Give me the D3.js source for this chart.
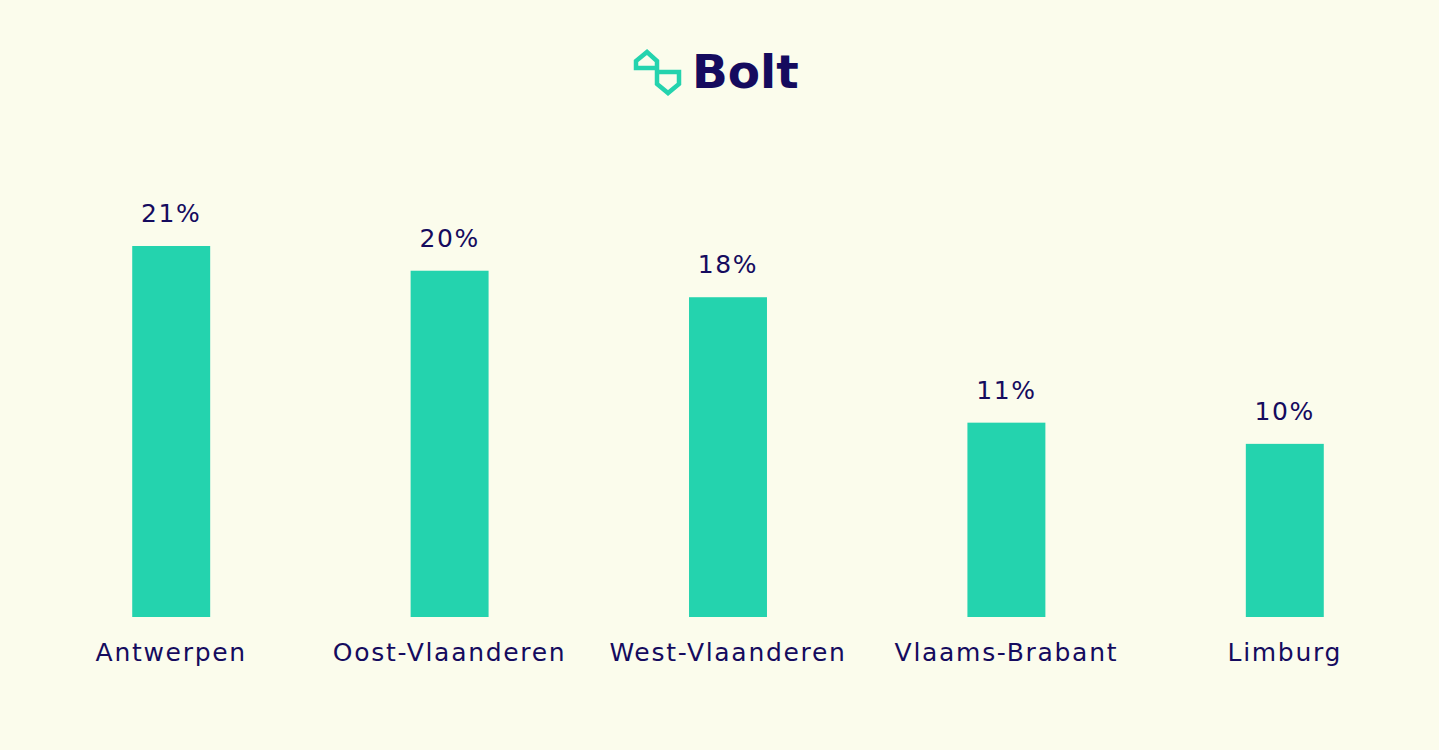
<!DOCTYPE html>
<html><head><meta charset="utf-8">
<script src="https://cdn.jsdelivr.net/npm/d3@7"></script>
<style>html,body{margin:0;padding:0;background:#fbfcec;}</style>
</head><body>
<svg id="c" width="1439" height="750"></svg>
<script>
const categories = ["Antwerpen","Oost-Vlaanderen","West-Vlaanderen","Vlaams-Brabant","Limburg"];
const values = [21, 19.6, 18.1, 11, 9.8];
const valueLabels = ["21%","20%","18%","11%","10%"];

const navy = "#150b5e", teal = "#24d3ae";
const svg = d3.select("#c");
svg.append("rect").attr("width",1439).attr("height",750).attr("fill","#fbfcec");

const x = d3.scaleBand().domain(categories).range([32,1424]).paddingInner(0.72).paddingOuter(0.36);
const y = d3.scaleLinear().domain([0,21]).range([617,246]);

svg.selectAll("rect.bar").data(categories).join("rect").attr("class","bar")
  .attr("x",d=>x(d)).attr("width",x.bandwidth())
  .attr("y",(d,i)=>y(values[i])).attr("height",(d,i)=>y(0)-y(values[i]))
  .attr("fill",teal);

svg.selectAll("text.val").data(categories).join("text").attr("class","val")
  .attr("x",d=>x(d)+x.bandwidth()/2).attr("y",(d,i)=>y(values[i])-24)
  .attr("text-anchor","middle").attr("fill",navy)
  .style("font-family","DejaVu Sans").style("font-size","25px").style("letter-spacing","1.6px")
  .text((d,i)=>valueLabels[i]);

const xAxis = d3.axisBottom(x).tickSize(0).tickPadding(0);
const gx = svg.append("g").attr("transform","translate(0,643)").call(xAxis);
gx.select(".domain").remove();
gx.selectAll("text").attr("dy","0.71em").attr("fill",navy)
  .style("font-family","DejaVu Sans").style("font-size","25px").style("letter-spacing","1.7px");

// logo
svg.append("path")
  .attr("d","M657,72 L679,72 L679,84 L668,93 L657,84 L657,61 L647,52 L636,61 L636,68 L657,68")
  .attr("fill","none").attr("stroke",teal).attr("stroke-width",4.5).attr("stroke-linejoin","miter");
svg.append("text").attr("x",692).attr("y",88).attr("fill",navy)
  .style("font-family","DejaVu Sans").style("font-weight","bold").style("font-size","47px")
  .text("Bolt");
</script>
</body></html>
